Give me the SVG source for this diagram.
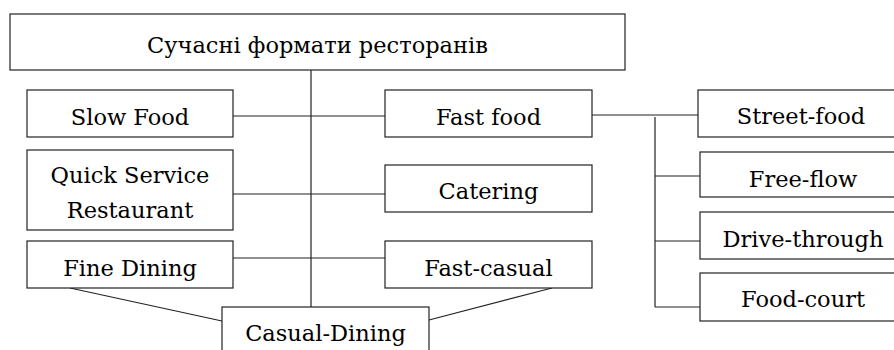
<svg xmlns="http://www.w3.org/2000/svg" width="894" height="350" viewBox="0 0 894 350">
<style>
.box{fill:#fff;stroke:#222;stroke-width:1.2}
.t{font-family:"DejaVu Serif",serif;font-size:22.5px;fill:#000;text-anchor:middle}
.ln{fill:none;stroke:#222;stroke-width:1.2}
</style>
<rect width="894" height="350" fill="#fff"/>
<g id="connectors">
<line class="ln" x1="311" y1="70" x2="311" y2="307"/>
<line class="ln" x1="233" y1="116" x2="385" y2="116"/>
<line class="ln" x1="233" y1="194" x2="385" y2="194"/>
<line class="ln" x1="233" y1="258" x2="385" y2="258"/>
<line class="ln" x1="70" y1="288" x2="222" y2="321"/>
<line class="ln" x1="552" y1="288" x2="429" y2="320"/>
<line class="ln" x1="592" y1="115" x2="698" y2="115"/>
<line class="ln" x1="655" y1="117" x2="655" y2="307"/>
<line class="ln" x1="655" y1="176" x2="700" y2="176"/>
<line class="ln" x1="655" y1="241" x2="700" y2="241"/>
<line class="ln" x1="655" y1="307" x2="700" y2="307"/>
</g>
<g id="root"><rect class="box" x="10" y="14" width="615" height="56"/><text class="t" x="317.5" y="53">Сучасні формати ресторанів</text></g>
<g id="slow-food"><rect class="box" x="27" y="90" width="206" height="47"/><text class="t" x="130" y="125">Slow Food</text></g>
<g id="quick-service"><rect class="box" x="27" y="150" width="206" height="80"/><text class="t" x="130" y="183">Quick Service</text><text class="t" x="130" y="218">Restaurant</text></g>
<g id="fine-dining"><rect class="box" x="27" y="241" width="206" height="47"/><text class="t" x="130" y="276">Fine Dining</text></g>
<g id="casual-dining"><rect class="box" x="222" y="307" width="207" height="60"/><text class="t" x="325.5" y="341">Casual-Dining</text></g>
<g id="fast-food"><rect class="box" x="385" y="90" width="207" height="47"/><text class="t" x="488.5" y="125">Fast food</text></g>
<g id="catering"><rect class="box" x="385" y="165" width="207" height="47"/><text class="t" x="488.5" y="199">Catering</text></g>
<g id="fast-casual"><rect class="box" x="385" y="241" width="207" height="47"/><text class="t" x="488.5" y="276">Fast-casual</text></g>
<g id="street-food"><rect class="box" x="698" y="90" width="210" height="47"/><text class="t" x="801" y="124">Street-food</text></g>
<g id="free-flow"><rect class="box" x="700" y="152" width="210" height="45"/><text class="t" x="803" y="187">Free-flow</text></g>
<g id="drive-through"><rect class="box" x="700" y="212" width="210" height="47"/><text class="t" x="803" y="247">Drive-through</text></g>
<g id="food-court"><rect class="box" x="700" y="273" width="210" height="48"/><text class="t" x="803" y="307">Food-court</text></g>
</svg>
